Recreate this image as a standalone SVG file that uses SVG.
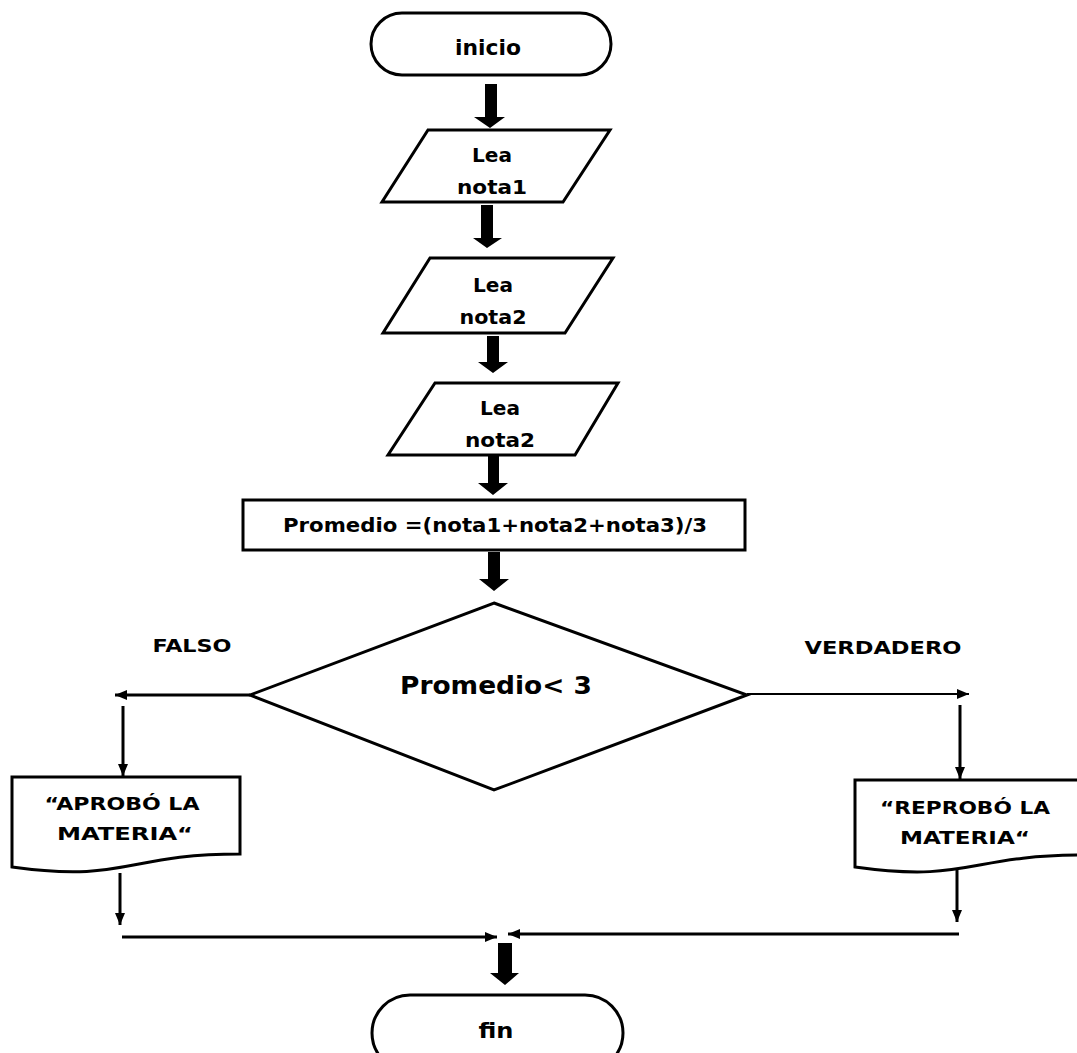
<svg xmlns="http://www.w3.org/2000/svg" width="1077" height="1053" viewBox="0 0 1077 1053">
  <style>
    .shape { fill: #ffffff; stroke: #000000; stroke-width: 3; stroke-linejoin: miter; }
    .t { font-family: "DejaVu Sans", Verdana, sans-serif; font-weight: bold; fill: #000000; text-anchor: middle; }
    .line { fill: none; stroke: #000000; stroke-width: 3; }
    .thin { fill: none; stroke: #000000; stroke-width: 2; }
    .fat { fill: #000000; stroke: none; }
  </style>
  <defs>
    <marker id="head" viewBox="0 0 12 10" refX="12" refY="5" markerWidth="12" markerHeight="10" markerUnits="userSpaceOnUse" orient="auto">
      <path d="M0,0 L12,5 L0,10 Z" fill="#000000"/>
    </marker>
  </defs>
  <rect width="1077" height="1053" fill="#ffffff"/>

  <!-- start terminal -->
  <g id="inicio">
    <rect class="shape" x="371" y="13" width="240" height="62" rx="31" ry="31"/>
    <text class="t" x="488" y="55" font-size="22" textLength="66" lengthAdjust="spacingAndGlyphs">inicio</text>
  </g>

  <!-- input 1 -->
  <g id="lea1">
    <polygon class="shape" points="428,130 610,130 563,202 382,202"/>
    <text class="t" x="492" y="162" font-size="20" textLength="40" lengthAdjust="spacingAndGlyphs">Lea</text>
    <text class="t" x="492" y="194" font-size="20" textLength="70" lengthAdjust="spacingAndGlyphs">nota1</text>
  </g>

  <!-- input 2 -->
  <g id="lea2">
    <polygon class="shape" points="430,258 613,258 565,333 383,333"/>
    <text class="t" x="493" y="292" font-size="20" textLength="40" lengthAdjust="spacingAndGlyphs">Lea</text>
    <text class="t" x="493" y="324" font-size="20" textLength="67" lengthAdjust="spacingAndGlyphs">nota2</text>
  </g>

  <!-- input 3 -->
  <g id="lea3">
    <polygon class="shape" points="435,383 618,383 575,455 388,455"/>
    <text class="t" x="500" y="415" font-size="20" textLength="40" lengthAdjust="spacingAndGlyphs">Lea</text>
    <text class="t" x="500" y="447" font-size="20" textLength="70" lengthAdjust="spacingAndGlyphs">nota2</text>
  </g>

  <!-- average computation -->
  <g id="promedio">
    <rect class="shape" x="243" y="500" width="502" height="50"/>
    <text class="t" x="495" y="532" font-size="19" textLength="424" lengthAdjust="spacingAndGlyphs">Promedio =(nota1+nota2+nota3)/3</text>
  </g>

  <!-- decision -->
  <g id="decision">
    <polygon class="shape" points="494,603 747,695 494,790 250,695"/>
    <text class="t" x="496" y="694" font-size="24" textLength="192" lengthAdjust="spacingAndGlyphs">Promedio&lt; 3</text>
  </g>

  <!-- branch labels -->
  <g id="labels">
    <text class="t" x="192" y="652" font-size="17" textLength="79" lengthAdjust="spacingAndGlyphs">FALSO</text>
    <text class="t" x="883" y="654" font-size="17" textLength="157" lengthAdjust="spacingAndGlyphs">VERDADERO</text>
  </g>

  <!-- output: passed -->
  <g id="aprobo">
    <path class="shape" d="M12,777 H240 V854 C126,854 126,883 12,867 Z"/>
    <text class="t" x="122" y="810" font-size="18" textLength="155" lengthAdjust="spacingAndGlyphs">“APROBÓ LA</text>
    <text class="t" x="125" y="840" font-size="18" textLength="136" lengthAdjust="spacingAndGlyphs">MATERIA“</text>
  </g>

  <!-- output: failed -->
  <g id="reprobo">
    <path class="shape" d="M855,780 H1083 V855 C969,855 969,883 855,867 Z"/>
    <text class="t" x="965" y="814" font-size="18" textLength="170" lengthAdjust="spacingAndGlyphs">“REPROBÓ LA</text>
    <text class="t" x="965" y="844" font-size="18" textLength="130" lengthAdjust="spacingAndGlyphs">MATERIA“</text>
  </g>

  <!-- end terminal -->
  <g id="fin">
    <rect class="shape" x="372" y="995" width="251" height="76" rx="38" ry="38"/>
    <text class="t" x="496" y="1038" font-size="22" textLength="35" lengthAdjust="spacingAndGlyphs">fin</text>
  </g>

  <!-- connectors -->
  <g id="connectors">
    <!-- main flow: thick block arrows -->
    <polygon class="fat" points="485,84 497,84 497,117 505,117 490,128 474,117 485,117"/>
    <polygon class="fat" points="481,205 493,205 493,238 502,238 487,248 473,238 481,238"/>
    <polygon class="fat" points="487,336 499,336 499,362 508,362 493,373 478,362 487,362"/>
    <polygon class="fat" points="488,456 499,456 499,483 508,483 493,495 478,483 488,483"/>
    <polygon class="fat" points="488,552 500,552 500,579 509,579 494,591 479,579 488,579"/>
    <polygon class="fat" points="498,943 512,943 512,973 519,973 505,985 490,973 498,973"/>

    <!-- false branch -->
    <line class="line" x1="250" y1="695" x2="115" y2="695" marker-end="url(#head)"/>
    <line class="line" x1="123" y1="706" x2="123" y2="776" marker-end="url(#head)"/>
    <line class="line" x1="120" y1="873" x2="120" y2="925" marker-end="url(#head)"/>
    <line class="line" x1="122" y1="937" x2="497" y2="937" marker-end="url(#head)"/>

    <!-- true branch -->
    <line class="thin" x1="747" y1="694" x2="969" y2="694" marker-end="url(#head)"/>
    <line class="line" x1="960" y1="705" x2="960" y2="779" marker-end="url(#head)"/>
    <line class="line" x1="957" y1="870" x2="957" y2="922" marker-end="url(#head)"/>
    <line class="line" x1="959" y1="934" x2="508" y2="934" marker-end="url(#head)"/>
  </g>
</svg>
